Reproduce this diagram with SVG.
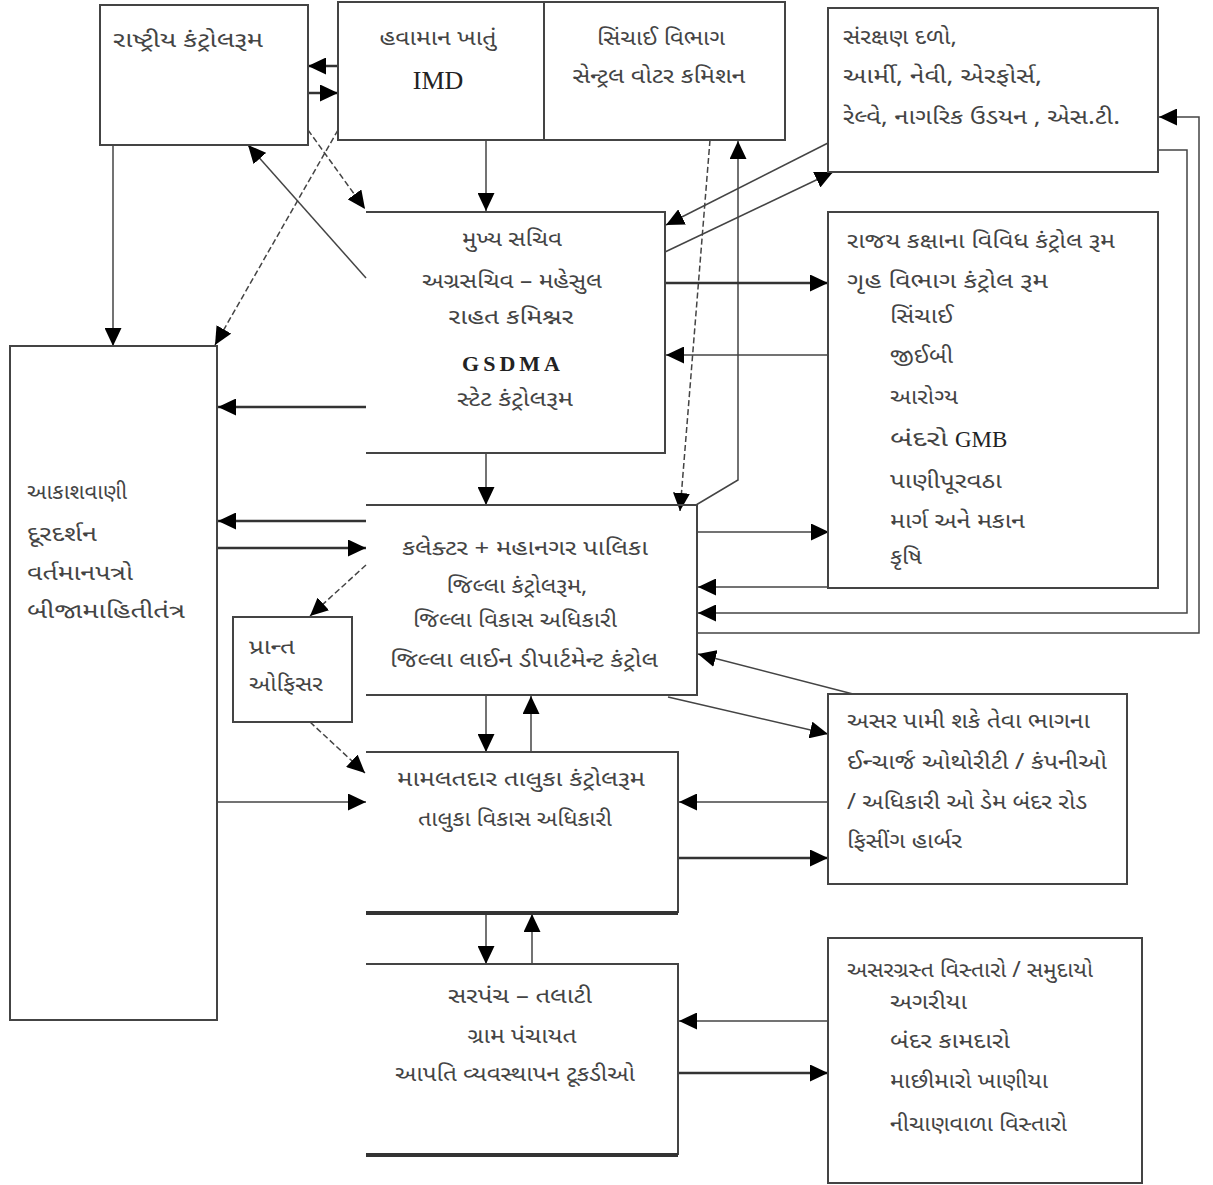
<svg xmlns="http://www.w3.org/2000/svg" width="1213" height="1185" viewBox="0 0 1213 1185">
<style>
.box{fill:#fff;stroke:#444;stroke-width:2}
.open{fill:none;stroke:#444;stroke-width:2}
.thick{fill:none;stroke:#333;stroke-width:4}
.gu{font-family:"Noto Sans Gujarati","Noto Sans","DejaVu Sans",sans-serif;font-size:21px;fill:#444}
.mid{text-anchor:middle}
.lat{font-family:"Liberation Serif",serif;fill:#222}
.c{fill:none;stroke:#333;stroke-width:2.5}
.cs{fill:none;stroke:#444;stroke-width:1.5}
.d{fill:none;stroke:#444;stroke-width:1.5;stroke-dasharray:6 3}
</style>
<defs>
<marker id="ah" markerUnits="userSpaceOnUse" markerWidth="19" markerHeight="17" refX="18" refY="8.5" orient="auto">
<path d="M0,0 L18,8.5 L0,17 z" fill="#000"/>
</marker>
</defs>
<rect width="1213" height="1185" fill="#fff"/>

<g id="connectors">
<line class="c" x1="338" y1="66" x2="308" y2="66" marker-end="url(#ah)"/>
<line class="c" x1="308" y1="93" x2="338" y2="93" marker-end="url(#ah)"/>
<line class="d" x1="308" y1="130" x2="365" y2="209" marker-end="url(#ah)"/>
<line class="d" x1="338" y1="130" x2="215" y2="345" marker-end="url(#ah)"/>
<line class="cs" x1="366" y1="278" x2="248" y2="145" marker-end="url(#ah)"/>
<line class="cs" x1="113" y1="135" x2="113" y2="346" marker-end="url(#ah)"/>
<line class="cs" x1="486" y1="138" x2="486" y2="211" marker-end="url(#ah)"/>
<line class="d" x1="710" y1="140" x2="680" y2="511" marker-end="url(#ah)"/>
<polyline class="cs" points="696,505 738,480 738,141" marker-end="url(#ah)"/>
<line class="cs" x1="828" y1="143" x2="666" y2="225" marker-end="url(#ah)"/>
<line class="cs" x1="665" y1="252" x2="833" y2="172" marker-end="url(#ah)"/>
<line class="c" x1="665" y1="283" x2="828" y2="283" marker-end="url(#ah)"/>
<line class="cs" x1="828" y1="355" x2="666" y2="355" marker-end="url(#ah)"/>
<line class="c" x1="366" y1="407" x2="218" y2="407" marker-end="url(#ah)"/>
<line class="cs" x1="486" y1="453" x2="486" y2="505" marker-end="url(#ah)"/>
<line class="c" x1="366" y1="521" x2="218" y2="521" marker-end="url(#ah)"/>
<line class="c" x1="217" y1="548" x2="366" y2="548" marker-end="url(#ah)"/>
<line class="d" x1="366" y1="565" x2="310" y2="616" marker-end="url(#ah)"/>
<line class="d" x1="310" y1="722" x2="365" y2="773" marker-end="url(#ah)"/>
<line class="cs" x1="217" y1="802" x2="366" y2="802" marker-end="url(#ah)"/>
<line class="cs" x1="486" y1="695" x2="486" y2="752" marker-end="url(#ah)"/>
<line class="cs" x1="531" y1="752" x2="531" y2="696" marker-end="url(#ah)"/>
<line class="cs" x1="697" y1="532" x2="829" y2="532" marker-end="url(#ah)"/>
<line class="cs" x1="828" y1="587" x2="698" y2="587" marker-end="url(#ah)"/>
<polyline class="cs" points="1158,150 1187,150 1187,613 698,613" marker-end="url(#ah)"/>
<polyline class="cs" points="697,633 1199,633 1199,117 1159,117" marker-end="url(#ah)"/>
<line class="cs" x1="668" y1="697" x2="828" y2="734" marker-end="url(#ah)"/>
<line class="cs" x1="853" y1="694" x2="698" y2="654" marker-end="url(#ah)"/>
<line class="cs" x1="828" y1="802" x2="679" y2="802" marker-end="url(#ah)"/>
<line class="c" x1="678" y1="858" x2="828" y2="858" marker-end="url(#ah)"/>
<line class="cs" x1="486" y1="913" x2="486" y2="964" marker-end="url(#ah)"/>
<line class="cs" x1="532" y1="964" x2="532" y2="914" marker-end="url(#ah)"/>
<line class="cs" x1="828" y1="1021" x2="679" y2="1021" marker-end="url(#ah)"/>
<line class="c" x1="678" y1="1073" x2="828" y2="1073" marker-end="url(#ah)"/>
</g>

<g id="national">
<rect class="box" x="100" y="5" width="208" height="140"/>
<text class="gu" x="113" y="47" textLength="150" lengthAdjust="spacingAndGlyphs">રાષ્ટ્રીય કંટ્રોલરૂમ</text>
</g>

<g id="imd">
<rect class="box" x="338" y="2" width="447" height="138"/>
<line class="open" x1="544" y1="2" x2="544" y2="140"/>
<text class="gu mid" x="438" y="45" textLength="117" lengthAdjust="spacingAndGlyphs">હવામાન ખાતું</text>
<text class="lat mid" x="438" y="89" font-size="26">IMD</text>
<text class="gu mid" x="661" y="45" textLength="128" lengthAdjust="spacingAndGlyphs">સિંચાઈ વિભાગ</text>
<text class="gu mid" x="659" y="83" textLength="173" lengthAdjust="spacingAndGlyphs">સેન્ટ્રલ વોટર કમિશન</text>
</g>

<g id="defense">
<rect class="box" x="828" y="8" width="330" height="164"/>
<text class="gu" x="843" y="44" textLength="114" lengthAdjust="spacingAndGlyphs">સંરક્ષણ દળો,</text>
<text class="gu" x="843" y="83" textLength="199" lengthAdjust="spacingAndGlyphs">આર્મી, નેવી, એરફોર્સ,</text>
<text class="gu" x="843" y="124" textLength="277" lengthAdjust="spacingAndGlyphs">રેલ્વે, નાગરિક ઉડયન , એસ.ટી.</text>
</g>

<g id="chief-secretary">
<path class="open" d="M366,212 H665 V453 H366"/>
<text class="gu mid" x="512" y="246" textLength="100" lengthAdjust="spacingAndGlyphs">મુખ્ય સચિવ</text>
<text class="gu mid" x="512" y="288" textLength="180" lengthAdjust="spacingAndGlyphs">અગ્રસચિવ – મહેસુલ</text>
<text class="gu mid" x="511" y="324" textLength="125" lengthAdjust="spacingAndGlyphs">રાહત કમિશ્નર</text>
<text class="lat mid" x="513" y="371" font-size="22" font-weight="bold" letter-spacing="4">GSDMA</text>
<text class="gu mid" x="515" y="406" textLength="116" lengthAdjust="spacingAndGlyphs">સ્ટેટ કંટ્રોલરૂમ</text>
</g>

<g id="state-control-rooms">
<rect class="box" x="828" y="212" width="330" height="376"/>
<text class="gu" x="847" y="248" textLength="268" lengthAdjust="spacingAndGlyphs">રાજય કક્ષાના વિવિધ કંટ્રોલ રૂમ</text>
<text class="gu" x="847" y="288" textLength="201" lengthAdjust="spacingAndGlyphs">ગૃહ વિભાગ કંટ્રોલ રૂમ</text>
<text class="gu" x="890" y="323" textLength="63" lengthAdjust="spacingAndGlyphs">સિંચાઈ</text>
<text class="gu" x="890" y="363" textLength="63" lengthAdjust="spacingAndGlyphs">જીઈબી</text>
<text class="gu" x="890" y="404" textLength="68" lengthAdjust="spacingAndGlyphs">આરોગ્ય</text>
<text class="gu" x="890" y="446" textLength="58" lengthAdjust="spacingAndGlyphs">બંદરો</text>
<text class="lat" x="955" y="447" font-size="23">GMB</text>
<text class="gu" x="890" y="488" textLength="112" lengthAdjust="spacingAndGlyphs">પાણીપૂરવઠા</text>
<text class="gu" x="890" y="528" textLength="135" lengthAdjust="spacingAndGlyphs">માર્ગ અને મકાન</text>
<text class="gu" x="890" y="564" textLength="32" lengthAdjust="spacingAndGlyphs">કૃષિ</text>
</g>

<g id="media">
<rect class="box" x="10" y="346" width="207" height="674"/>
<text class="gu" x="27" y="499" textLength="100" lengthAdjust="spacingAndGlyphs">આકાશવાણી</text>
<text class="gu" x="27" y="541" textLength="70" lengthAdjust="spacingAndGlyphs">દૂરદર્શન</text>
<text class="gu" x="27" y="580" textLength="106" lengthAdjust="spacingAndGlyphs">વર્તમાનપત્રો</text>
<text class="gu" x="27" y="618" textLength="158" lengthAdjust="spacingAndGlyphs">બીજામાહિતીતંત્ર</text>
</g>

<g id="collector">
<path class="open" d="M366,505 H697 V695 H366"/>
<text class="gu mid" x="525" y="555" textLength="246" lengthAdjust="spacingAndGlyphs">કલેક્ટર + મહાનગર પાલિકા</text>
<text class="gu mid" x="517" y="593" textLength="141" lengthAdjust="spacingAndGlyphs">જિલ્લા કંટ્રોલરૂમ,</text>
<text class="gu mid" x="515" y="627" textLength="204" lengthAdjust="spacingAndGlyphs">જિલ્લા વિકાસ અધિકારી</text>
<text class="gu mid" x="524" y="667" textLength="268" lengthAdjust="spacingAndGlyphs">જિલ્લા લાઈન  ડીપાર્ટમેન્ટ કંટ્રોલ</text>
</g>

<g id="prant">
<rect class="box" x="233" y="617" width="119" height="105"/>
<text class="gu" x="249" y="654" textLength="46" lengthAdjust="spacingAndGlyphs">પ્રાન્ત</text>
<text class="gu" x="249" y="691" textLength="74" lengthAdjust="spacingAndGlyphs">ઓફિસર</text>
</g>

<g id="affected-authority">
<rect class="box" x="828" y="694" width="299" height="190"/>
<text class="gu" x="847" y="728" textLength="243" lengthAdjust="spacingAndGlyphs">અસર પામી શકે તેવા ભાગના</text>
<text class="gu" x="847" y="769" textLength="260" lengthAdjust="spacingAndGlyphs">ઈન્ચાર્જ ઓથોરીટી / કંપનીઓ</text>
<text class="gu" x="847" y="809" textLength="240" lengthAdjust="spacingAndGlyphs">/ અધિકારી ઓ ડેમ બંદર રોડ</text>
<text class="gu" x="847" y="848" textLength="115" lengthAdjust="spacingAndGlyphs">ફિસીંગ હાર્બર</text>
</g>

<g id="mamlatdar">
<path class="open" d="M366,752 H678 V913"/>
<line class="thick" x1="366" y1="913" x2="678" y2="913"/>
<text class="gu mid" x="521" y="786" textLength="248" lengthAdjust="spacingAndGlyphs">મામલતદાર તાલુકા કંટ્રોલરૂમ</text>
<text class="gu mid" x="515" y="826" textLength="194" lengthAdjust="spacingAndGlyphs">તાલુકા વિકાસ અધિકારી</text>
</g>

<g id="sarpanch">
<path class="open" d="M366,964 H678 V1155"/>
<line class="thick" x1="366" y1="1155" x2="678" y2="1155" stroke-width="3"/>
<text class="gu mid" x="520" y="1003" textLength="144" lengthAdjust="spacingAndGlyphs">સરપંચ – તલાટી</text>
<text class="gu mid" x="522" y="1043" textLength="109" lengthAdjust="spacingAndGlyphs">ગ્રામ પંચાયત</text>
<text class="gu mid" x="515" y="1081" textLength="240" lengthAdjust="spacingAndGlyphs">આપતિ વ્યવસ્થાપન ટૂકડીઓ</text>
</g>

<g id="affected-areas">
<rect class="box" x="828" y="938" width="314" height="245"/>
<text class="gu" x="847" y="977" textLength="246" lengthAdjust="spacingAndGlyphs">અસરગ્રસ્ત વિસ્તારો / સમુદાયો</text>
<text class="gu" x="890" y="1009" textLength="77" lengthAdjust="spacingAndGlyphs">અગરીયા</text>
<text class="gu" x="890" y="1048" textLength="120" lengthAdjust="spacingAndGlyphs">બંદર કામદારો</text>
<text class="gu" x="890" y="1088" textLength="158" lengthAdjust="spacingAndGlyphs">માછીમારો ખાણીયા</text>
<text class="gu" x="890" y="1131" textLength="177" lengthAdjust="spacingAndGlyphs">નીચાણવાળા વિસ્તારો</text>
</g>
</svg>
